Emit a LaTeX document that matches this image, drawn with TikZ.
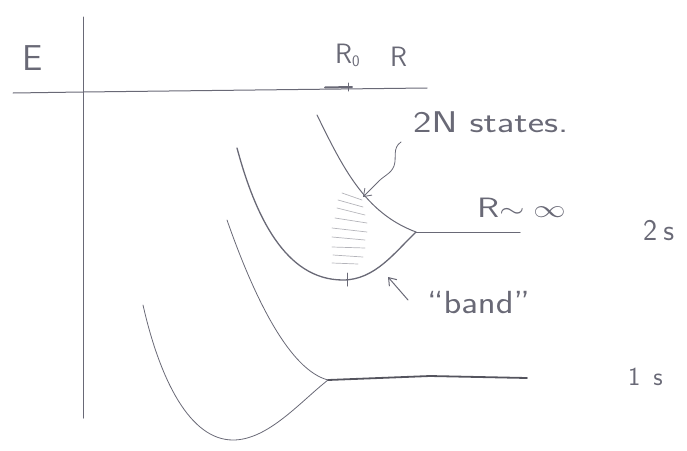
\documentclass[tikz,border=0pt]{standalone}
\usetikzlibrary{arrows.meta}
\definecolor{ink}{RGB}{105,105,118}
\definecolor{hatch}{RGB}{180,180,186}
\newcommand{\fs}[1]{\fontsize{#1}{#1}\selectfont}
\tikzset{
  pencil/.style={draw=ink, line width=1pt, line cap=round, line join=round},
  heavy/.style={draw=ink!80!black, line width=1.8pt, line cap=round},
  hatchline/.style={draw=hatch, line width=0.7pt, line cap=round},
  lab/.style={text=ink, inner sep=0pt, font=\sffamily},
  barb/.style={-{Straight Barb[length=7pt,width=10pt]}}
}
\begin{document}
\begin{tikzpicture}[x=1pt,y=-1pt]
\useasboundingbox (0,0) rectangle (687,450);

% axes
\coordinate (ytop) at (83,17);
\coordinate (ybot) at (83,418);
\coordinate (xl) at (13,93);
\coordinate (xm) at (83,92);
\coordinate (xr) at (427,88);
\draw[pencil] (ytop) -- (ybot);
\draw[pencil] (xl) -- (xm) -- (xr);
\coordinate (m1) at (325,87.5);
\coordinate (m2) at (352,87);
\draw[pencil, line width=2pt] (m1) -- (m2);
\draw[pencil] (348,83) -- (348,91);

% labels
\node[lab, font=\sffamily\fs{36}] (E) at (33,58) {E};
\node[lab, font=\sffamily\fs{28}, anchor=base west] (R0) at (335,63) {R\raisebox{-3pt}{\fs{16}0}};
\node[lab, font=\sffamily\fs{28}, anchor=base west] (R) at (390,66) {R};
\node[lab, anchor=base west] (states) at (413,132) {\scalebox{1.3}[1]{\fs{30}2N states.}};
\node[lab, anchor=base west] (Rinf) at (477,217) {\scalebox{1.3}[1]{\fs{28}R$\sim\infty$}};
\node[lab, anchor=base west] (two) at (643,240) {\fs{30}2\hspace{0.2em}s};
\node[lab, anchor=base west] (one) at (628,385) {\fs{26}1\hspace{0.5em}s};
\node[lab, anchor=base west] (band) at (427,313) {\scalebox{1.15}[1]{\fs{32}``band''}};

% 2s curves
\coordinate (a2) at (317,115);
\coordinate (b2) at (237,148);
\coordinate (bot2) at (343,280);
\coordinate (m2s) at (416,232);
\coordinate (e2) at (520,232);
\draw[pencil] (a2) .. controls (343,168) and (365,213) .. (m2s);
\draw[pencil, line width=1.3pt] (b2) .. controls (255,215) and (285,280) .. (bot2)
  .. controls (375,280) and (395,252) .. (m2s);
\draw[pencil] (m2s) -- (e2);
\draw[pencil] (347,273) -- (347,286);

% hatching
\draw[hatchline] (342,193) -- (362,200);
\draw[hatchline] (338,200) -- (363,207);
\draw[hatchline] (337,208) -- (365,215);
\draw[hatchline] (335,218) -- (367,223);
\draw[hatchline] (332,228) -- (367,232);
\draw[hatchline] (332,237) -- (365,240);
\draw[hatchline] (332,247) -- (365,248);
\draw[hatchline] (333,255) -- (363,257);
\draw[hatchline] (332,263) -- (358,264);

% 1s curves
\coordinate (a1) at (227,220);
\coordinate (b1) at (143,305);
\coordinate (bot1) at (233,440);
\coordinate (m1s) at (328,380);
\coordinate (e1) at (527,378);
\draw[pencil, line width=0.8pt] (a1) .. controls (255,300) and (290,370) .. (m1s);
\draw[pencil, line width=0.8pt] (b1) .. controls (160,380) and (190,440) .. (bot1)
  .. controls (268,440) and (300,402) .. (m1s);
\draw[heavy] (m1s) -- (430,376) -- (e1);

% arrows
\coordinate (sq) at (401,142);
\coordinate (tip) at (363,197);
\draw[pencil, line width=0.8pt, barb] (sq) .. controls (392,148) and (397,158) .. (394,166)
  .. controls (391,174) and (383,176) .. (377,183) -- (tip);
\coordinate (bt) at (408,300);
\coordinate (bh) at (388,277);
\draw[pencil, barb] (bt) -- (bh);
\end{tikzpicture}
\end{document}
